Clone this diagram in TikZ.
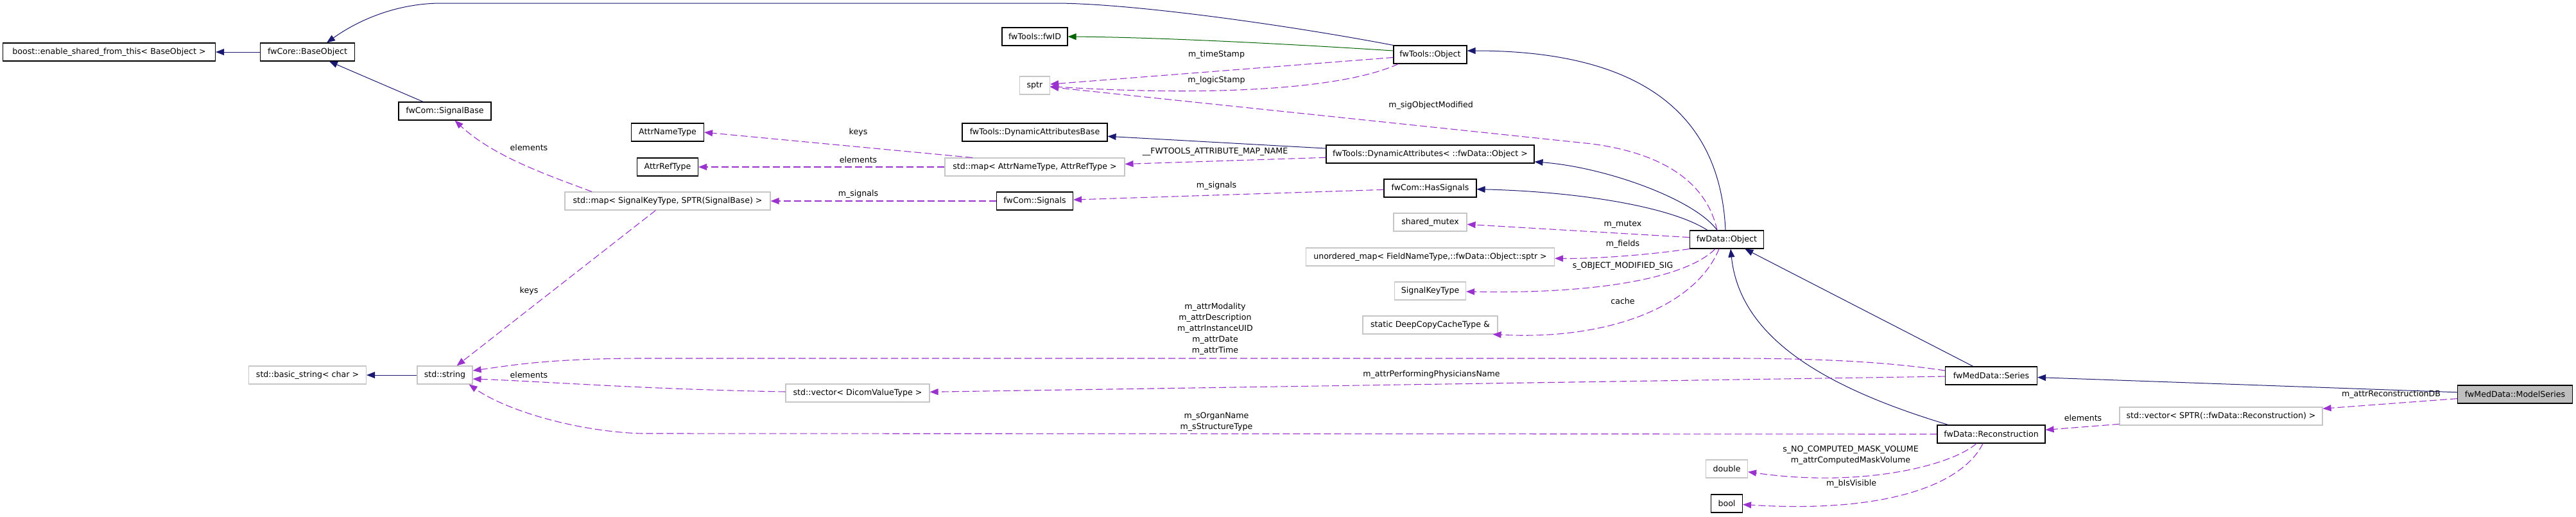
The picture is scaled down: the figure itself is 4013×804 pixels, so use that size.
\documentclass[tikz,border=0pt]{standalone}
\usepackage{fontspec}
\setmainfont{DejaVu Sans}
\usepackage{tikz}
\usetikzlibrary{arrows.meta,calc}
\definecolor{inhblue}{HTML}{191970}
\definecolor{protgreen}{HTML}{006400}
\definecolor{usepurple}{HTML}{9A32CD}
\begin{document}
\begin{tikzpicture}[
    x=1pt, y=-1pt,
    every node/.style={font=\fontsize{12.6}{17}\selectfont, align=center},
    box/.style={draw=black, line width=1.1pt, fill=white, minimum height=28pt, inner sep=2pt},
    extbox/.style={box, draw=gray!45},
    focus/.style={box, fill=gray!50},
    inherit/.style={-{Triangle[length=13pt,width=10pt]}, line width=1pt, draw=inhblue},
    protinherit/.style={inherit, draw=protgreen},
    uses/.style={-{Triangle[length=13pt,width=10pt]}, line width=1.1pt, draw=usepurple, dash pattern=on 11pt off 5pt},
    lbl/.style={inner sep=1pt, yshift=1.5pt}
]
\path[fill=white, use as bounding box] (0,0) rectangle (4013,804);

\node[box, minimum width=331pt] (boost) at (170,81) {boost::enable\_shared\_from\_this< BaseObject >};
\node[box, minimum width=147pt] (bobj) at (479,81) {fwCore::BaseObject};
\node[box, minimum width=144pt] (sigbase) at (693,173) {fwCom::SignalBase};
\node[box, minimum width=113pt] (attrname) at (1040,206) {AttrNameType};
\node[box, minimum width=95pt] (attrref) at (1040,260) {AttrRefType};
\node[extbox, minimum width=320pt] (mapsig) at (1040,313) {std::map< SignalKeyType, SPTR(SignalBase) >};
\node[extbox, minimum width=183pt] (bstr) at (479,584) {std::basic\_string< char >};
\node[extbox, minimum width=86pt] (str) at (693,584) {std::string};
\node[box, minimum width=102pt] (fwid) at (1612,57) {fwTools::fwID};
\node[extbox, minimum width=47pt] (sptr) at (1612,133) {sptr};
\node[box, minimum width=226pt] (dabase) at (1612,206) {fwTools::DynamicAttributesBase};
\node[extbox, minimum width=280pt] (mapattr) at (1612,260) {std::map< AttrNameType, AttrRefType >};
\node[box, minimum width=119pt] (signals) at (1612,313) {fwCom::Signals};
\node[extbox, minimum width=224pt] (vecdicom) at (1336,612) {std::vector< DicomValueType >};
\node[box, minimum width=114pt] (tobj) at (2228,85) {fwTools::Object};
\node[box, minimum width=324pt] (dattr) at (2228,240) {fwTools::DynamicAttributes< ::fwData::Object >};
\node[box, minimum width=144pt] (hassig) at (2228,293) {fwCom::HasSignals};
\node[extbox, minimum width=114pt] (shmutex) at (2228,346) {shared\_mutex};
\node[extbox, minimum width=387pt] (umap) at (2228,400) {unordered\_map< FieldNameType,::fwData::Object::sptr >};
\node[extbox, minimum width=111pt] (sigkey) at (2228,453) {SignalKeyType};
\node[extbox, minimum width=210pt] (dcc) at (2228,506) {static DeepCopyCacheType \&};
\node[box, minimum width=115pt] (dobj) at (2690,373) {fwData::Object};
\node[extbox, minimum width=65pt] (dbl) at (2690,730) {double};
\node[box, minimum width=49pt] (boolt) at (2690,784) {bool};
\node[box, minimum width=143pt] (series) at (3102,585) {fwMedData::Series};
\node[box, minimum width=168pt] (recon) at (3102,676) {fwData::Reconstruction};
\node[extbox, minimum width=316pt] (vecsptr) at (3460,648) {std::vector< SPTR(::fwData::Reconstruction) >};
\node[focus, minimum width=179pt] (mseries) at (3918,614) {fwMedData::ModelSeries};

\draw[inherit] (bobj) -- (boost);
\draw[inherit] (sigbase) -- (bobj);
\draw[inherit] (tobj.north west) .. controls (2000,38) and (1760,5) .. (1643,5) -- (688,5) .. controls (620,5) and (560,30) .. ($(bobj.north)+(30,0)$);
\draw[protinherit] ($(tobj.west)+(0,-6)$) .. controls (2000,68) and (1800,58) .. (fwid.east);
\draw[uses] (tobj) -- (sptr) node[lbl] at (1895,87) {m\_timeStamp};
\draw[uses] ($(tobj.south west)+(8,0)$) .. controls (2090,140) and (1880,150) .. (sptr) node[lbl] at (1895,127) {m\_logicStamp};
\draw[uses] ($(dobj.north)+(-15,0)$) .. controls (2660,290) and (2600,240) .. (2480,224) -- (sptr) node[lbl] at (2229,166) {m\_sigObjectModified};
\draw[inherit] ($(dobj.north)+(-2,0)$) .. controls (2680,180) and (2560,79) .. ($(tobj.east)+(0,-6)$);
\draw[inherit] (dattr) -- (dabase);
\draw[uses] (dattr) -- (mapattr) node[lbl] at (1893,238) {\_\_FWTOOLS\_ATTRIBUTE\_MAP\_NAME};
\draw[uses] ($(mapattr.north)+(-97,0)$) -- (attrname.east) node[lbl] at (1337,208) {keys};
\draw[uses] (mapattr) -- (attrref) node[lbl] at (1337,250) {elements};
\draw[inherit] ($(dobj.north)+(-15,0)$) .. controls (2640,310) and (2500,260) .. (dattr);
\draw[uses] (hassig) -- (signals) node[lbl] at (1895,291) {m\_signals};
\draw[inherit] ($(dobj.north)+(-30,0)$) .. controls (2600,320) and (2450,298) .. (hassig);
\draw[uses] (signals) -- (mapsig) node[lbl] at (1337,304) {m\_signals};
\draw[uses] ($(mapsig.north)+(-118,0)$) .. controls (860,275) and (770,245) .. (sigbase) node[lbl] at (824,231) {elements};
\draw[uses] (mapsig) -- (str) node[lbl] at (824,455) {keys};
\draw[inherit] (str) -- (bstr);
\draw[uses] (dobj) -- (shmutex) node[lbl] at (2528,351) {m\_mutex};
\draw[uses] (dobj.south west) .. controls (2560,398) and (2480,403) .. (umap) node[lbl] at (2528,382) {m\_fields};
\draw[uses] ($(dobj.south)+(-18,0)$) .. controls (2630,430) and (2500,458) .. (sigkey) node[lbl] at (2528,416) {s\_OBJECT\_MODIFIED\_SIG};
\draw[uses] ($(dobj.south)+(-12,0)$) .. controls (2640,480) and (2500,530) .. ($(dcc.south east)+(-8,0)$) node[lbl] at (2528,470) {cache};
\draw[inherit] (series) -- (dobj);
\draw[inherit] ($(recon.north)+(-67,0)$) .. controls (2830,600) and (2710,520) .. ($(dobj.south)+(6,0)$);
\draw[uses] ($(series.west)+(0,-8)$) .. controls (2950,565) and (2850,558) .. (2700,558) -- (1004,558) .. controls (850,558) and (790,570) .. ($(str.east)+(0,-7)$) node[lbl] at (1893,514) {m\_attrModality\\m\_attrDescription\\m\_attrInstanceUID\\m\_attrDate\\m\_attrTime};
\draw[uses] (series) -- (vecdicom) node[lbl] at (2230,585) {m\_attrPerformingPhysiciansName};
\draw[uses] (vecdicom) .. controls (1000,606) and (850,594) .. ($(str.east)+(0,6)$) node[lbl] at (824,585) {elements};
\draw[uses] (recon.west) -- (1000,675) .. controls (900,672) and (790,640) .. ($(str.south east)+(-6,0)$) node[lbl] at (1895,658) {m\_sOrganName\\m\_sStructureType};
\draw[uses] ($(recon.south)+(-23,0)$) .. controls (3040,725) and (2900,760) .. (dbl) node[lbl] at (2883,710) {s\_NO\_COMPUTED\_MASK\_VOLUME\\m\_attrComputedMaskVolume};
\draw[uses] ($(recon.south)+(-13,0)$) .. controls (3060,750) and (2950,800) .. (boolt) node[lbl] at (2884,755) {m\_bIsVisible};
\draw[inherit] (mseries) -- (series);
\draw[uses] (mseries) -- (vecsptr) node[lbl] at (3725,616) {m\_attrReconstructionDB};
\draw[uses] (vecsptr) -- (recon) node[lbl] at (3245,652) {elements};
\end{tikzpicture}
\end{document}
